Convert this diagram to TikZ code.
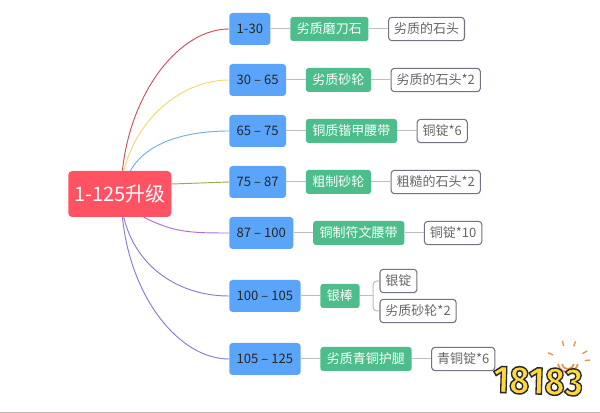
\documentclass[tikz,border=0pt]{standalone}
\usepackage{fontspec}
\setmainfont{Noto Sans CJK SC}
\newfontfamily\logofont{Fira Sans}
\usetikzlibrary{positioning,arrows.meta}
\definecolor{rootred}{HTML}{FF5263}
\definecolor{rangeblue}{HTML}{5AA5FA}
\definecolor{itemgreen}{HTML}{4CBD8B}
\definecolor{framegray}{HTML}{6F7480}
\definecolor{linegray}{HTML}{BDBDBD}
\definecolor{logoyellow}{HTML}{FFD83A}
\definecolor{logoorange}{HTML}{E8924A}
\definecolor{edgegray}{HTML}{B8B4AC}
\definecolor{curvered}{HTML}{C9525E}
\definecolor{curveyellow}{HTML}{F2D872}
\definecolor{curveblue}{HTML}{6EB0E2}
\definecolor{curveolive}{HTML}{A3A648}
\definecolor{curvepurple}{HTML}{A86FD2}
\definecolor{curveviolet}{HTML}{8C7AD2}
\begin{document}
\begin{tikzpicture}[
        x=0.75pt, y=-0.75pt,
        node distance=14.5pt,
        every node/.style={align=center},
        rootbox/.style={rectangle, rounded corners=3pt, fill=rootred, text=white, font=\fontsize{15}{18}\selectfont, minimum width=77.25pt, minimum height=34.5pt, inner sep=0pt},
        rangebox/.style={rectangle, rounded corners=2.5pt, fill=rangeblue, text=black!85, font=\fontsize{9.8}{11}\selectfont, minimum height=24pt, inner xsep=5.6pt, inner ysep=0pt},
        itembox/.style={rectangle, rounded corners=2pt, fill=itemgreen, text=white, font=\fontsize{9.75}{11}\selectfont, minimum height=18pt, inner xsep=4.9pt, inner ysep=0pt},
        matbox/.style={rectangle, rounded corners=2.5pt, draw=framegray, line width=0.8pt, fill=white, text=black!60, font=\fontsize{9.75}{11}\selectfont, minimum height=17.5pt, inner xsep=4.1pt, inner ysep=0pt},
        branch/.style={line width=0.7pt},
        link/.style={draw=linegray, line width=0.75pt}
    ]
    \fill[white] (0,0) rectangle (600,413);
    \fill[edgegray] (0,411.5) rectangle (600,413);
    \useasboundingbox (0,0) rectangle (600,413);
    % Nodes
    \node[rootbox, anchor=west] (root) at (68,194) {1-125升级};
    \node[rangebox, anchor=west] (r1) at (229,29) {1-30};
    \node[rangebox, below=13.85pt of r1.south west, anchor=north west] (r2) {30 – 65};
    \node[rangebox, below=13.85pt of r2.south west, anchor=north west] (r3) {65 – 75};
    \node[rangebox, below=13.85pt of r3.south west, anchor=north west] (r4) {75 – 87};
    \node[rangebox, below=13.85pt of r4.south west, anchor=north west] (r5) {87 – 100};
    \node[rangebox, below=22.85pt of r5.south west, anchor=north west] (r6) {100 – 105};
    \node[rangebox, below=22.85pt of r6.south west, anchor=north west] (r7) {105 – 125};
    \node[itembox, right=of r1] (i1) {劣质磨刀石};
    \node[itembox, right=of r2] (i2) {劣质砂轮};
    \node[itembox, right=of r3] (i3) {铜质锴甲腰带};
    \node[itembox, right=of r4] (i4) {粗制砂轮};
    \node[itembox, right=of r5] (i5) {铜制符文腰带};
    \node[itembox, right=of r6] (i6) {银棒};
    \node[itembox, right=of r7] (i7) {劣质青铜护腿};
    \node[matbox, right=of i1] (m1) {劣质的石头};
    \node[matbox, right=of i2] (m2) {劣质的石头*2};
    \node[matbox, right=of i3] (m3) {铜锭*6};
    \node[matbox, right=of i4] (m4) {粗糙的石头*2};
    \node[matbox, right=of i5] (m5) {铜锭*10};
    \node[matbox, right=of i7] (m8) {青铜锭*6};
    \coordinate[right=10pt of i6] (fork);
    \node[matbox, anchor=west] (m6) at ([xshift=4.75pt, yshift=11.25pt]fork) {银锭};
    \node[matbox, anchor=west] (m7) at ([xshift=4.75pt, yshift=-11.25pt]fork) {劣质砂轮*2};
    % Arrows
    \draw[branch, draw=curvered] ([xshift=2pt]root.north) .. controls +(8,-78) and +(-50,0) .. (r1.west);
    \draw[branch, draw=curveyellow] ([xshift=3pt]root.north) .. controls +(14,-55) and +(-45,0) .. (r2.west);
    \draw[branch, draw=curveblue] ([xshift=8pt]root.north) .. controls +(18,-32) and +(-35,0) .. (r3.west);
    \draw[branch, draw=curveolive] ([yshift=7.5pt]root.east) -- (r4.west);
    \draw[branch, draw=curvepurple] ([xshift=18pt]root.south) .. controls +(30,15) and +(-40,0) .. (r5.west);
    \draw[branch, draw=curveviolet] ([xshift=3pt]root.south) .. controls +(12,50) and +(-50,0) .. (r6.west);
    \draw[branch, draw=curveviolet] ([xshift=2pt]root.south) .. controls +(8,80) and +(-50,0) .. (r7.west);
    \foreach \a/\b in {r1/i1, r2/i2, r3/i3, r4/i4, r5/i5, r6/i6, r7/i7, i1/m1, i2/m2, i3/m3, i4/m4, i5/m5, i7/m8}
        \draw[link] (\a) -- (\b);
    \draw[link] (i6) -- (fork);
    \draw[link, rounded corners=3pt] (fork) |- (m6.west);
    \draw[link, rounded corners=3pt] (fork) |- (m7.west);
    % Logo
    \draw[logoorange, line width=1.3pt] (562,364) arc[start angle=170, end angle=10, radius=6];
    \draw[logoorange, line width=1.3pt] (558,364) arc[start angle=170, end angle=10, radius=10];
    \foreach \i in {155,105,70,30,5}
        \draw[logoorange, line width=1pt] ([shift={(\i:12.5pt)}]568,362) -- ([shift={(\i:16.5pt)}]568,362);
    \node[text=logoyellow, font=\logofont\bfseries\fontsize{29}{29}\selectfont, xscale=.9, rotate=-2, transform shape] (logo) at (538,381)
        {\special{pdf:code 2 Tr 1.1 w 0.16 0.16 0.16 RG}18183\special{pdf:code 0 Tr}};
\end{tikzpicture}
\end{document}
